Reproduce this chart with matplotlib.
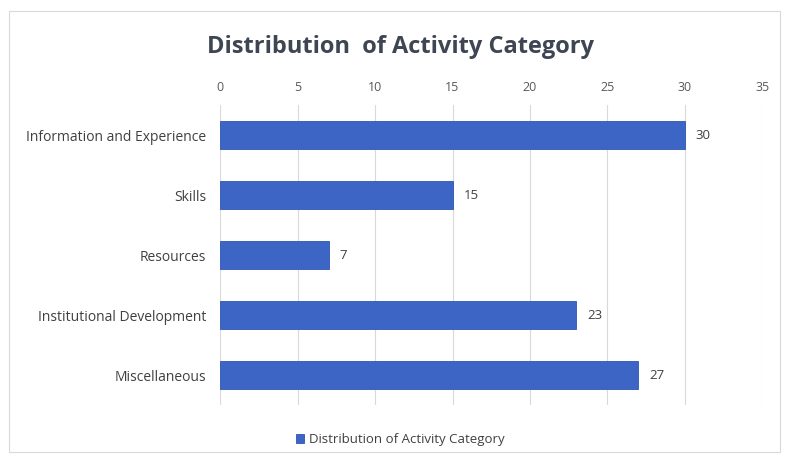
import matplotlib.pyplot as plt
from matplotlib.patches import Rectangle

categories = ["Information and Experience", "Skills", "Resources",
              "Institutional Development", "Miscellaneous"]
counts = [30, 15, 7, 23, 27]
x_ticks = [0, 5, 10, 15, 20, 25, 30, 35]

title = "Distribution  of Activity Category"
series_name = "Distribution of Activity Category"

plt.rcParams['font.family'] = ['Open Sans', 'DejaVu Sans']

fig = plt.figure(figsize=(7.85, 4.59), dpi=100)
fig.patch.set_facecolor('white')
# thin frame around the whole chart area
fig.patches.append(Rectangle((0.012, 0.015), 0.982, 0.96, transform=fig.transFigure,
                             fill=False, edgecolor='#d9d9d9', linewidth=0.8))

ax = fig.add_axes([0.2803, 0.1176, 0.6910, 0.6536])

ypos = list(range(len(categories)))
bars = ax.barh(ypos, counts, height=0.48, color='#3d65c6', edgecolor='#2f55b5',
               linewidth=0.6, label=series_name, zorder=3)
ax.set_ylim(len(categories) - 0.5, -0.5)
ax.set_xlim(0, 35)

ax.xaxis.tick_top()
ax.set_xticks(x_ticks)
ax.tick_params(axis='x', length=0, pad=8, labelsize=9, labelcolor='#595959')
ax.set_yticks(ypos)
ax.set_yticklabels(categories)
ax.tick_params(axis='y', length=0, pad=10, labelsize=10, labelcolor='#404040')

ax.grid(axis='x', color='#d9d9d9', linewidth=0.8, zorder=0)
for s in ax.spines.values():
    s.set_visible(False)

for b, v in zip(bars, counts):
    ax.text(v + 0.7, b.get_y() + b.get_height() / 2, str(v), va='center', ha='left',
            fontsize=9.5, color='#404040')

fig.text(0.51, 0.898, title, ha='center', va='center', fontsize=17,
         fontweight='bold', color='#3e4654')

fig.legend(handles=[bars], labels=[series_name], loc='center',
           bbox_to_anchor=(0.51, 0.042), frameon=False, fontsize=9.5,
           handlelength=0.6, handleheight=0.6, handletextpad=0.4,
           labelcolor='#404040')

fig.savefig('out.png', dpi=100)
